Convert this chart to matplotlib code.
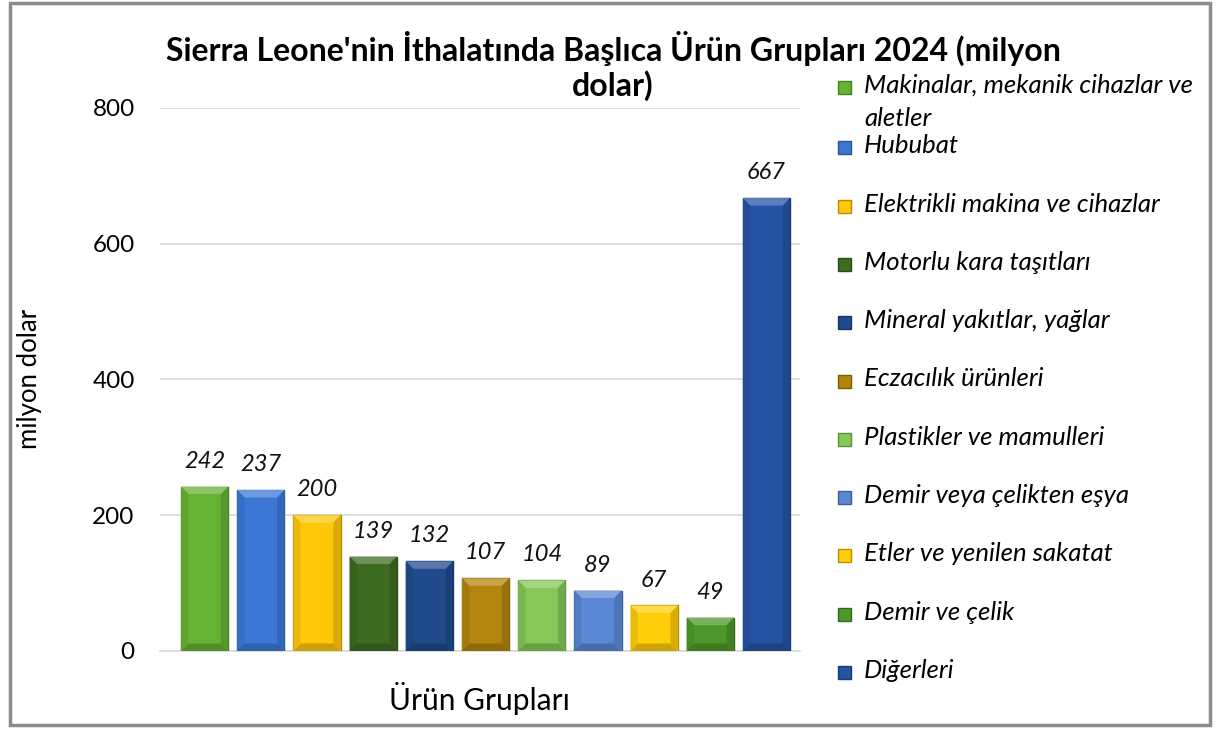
import matplotlib
matplotlib.use("Agg")
import matplotlib.pyplot as plt
from matplotlib.colors import to_rgb
from matplotlib.patches import Polygon, Rectangle

# data
categories = [
    "Makinalar, mekanik cihazlar ve\naletler",
    "Hububat",
    "Elektrikli makina ve cihazlar",
    "Motorlu kara taşıtları",
    "Mineral yakıtlar, yağlar",
    "Eczacılık ürünleri",
    "Plastikler ve mamulleri",
    "Demir veya çelikten eşya",
    "Etler ve yenilen sakatat",
    "Demir ve çelik",
    "Diğerleri",
]
values = [242, 237, 200, 139, 132, 107, 104, 89, 67, 49, 667]
colors = [
    "#66b232", "#3b78d6", "#ffc70a", "#3e6b22", "#1f4b8c", "#b3850e",
    "#86c758", "#5a88d4", "#ffcd0a", "#4e982b", "#2553a3",
]
yticks = [0, 200, 400, 600, 800]
title_lines = ["Sierra Leone'nin İthalatında Başlıca Ürün Grupları 2024 (milyon",
               "dolar)"]


def shade(color, f):
    r, g, b = to_rgb(color)
    if f >= 0:
        return (r + (1 - r) * f, g + (1 - g) * f, b + (1 - b) * f)
    return (r * (1 + f), g * (1 + f), b * (1 + f))


plt.rcParams["font.family"] = ["Lato", "DejaVu Sans"]

fig = plt.figure(figsize=(12.19, 7.35), dpi=100)
ax = fig.add_axes([0.131, 0.1143, 0.525, 0.739])

x = list(range(len(values)))
width = 0.84
bars = ax.bar(x, values, width=width, color=colors,
              edgecolor=[shade(c, -0.3) for c in colors],
              linewidth=1.0, zorder=3)

# bevel effect on each bar
bx = 0.13
by = 11
for xi, v, c in zip(x, values, colors):
    l, r = xi - width / 2, xi + width / 2
    top = [(l, v), (r, v), (r - bx, v - by), (l + bx, v - by)]
    bot = [(l, 0), (r, 0), (r - bx, by), (l + bx, by)]
    lft = [(l, 0), (l, v), (l + bx, v - by), (l + bx, by)]
    rgt = [(r, 0), (r, v), (r - bx, v - by), (r - bx, by)]
    for pts, f in [(top, 0.25), (bot, -0.2), (lft, -0.08), (rgt, -0.15)]:
        ax.add_patch(Polygon(pts, closed=True, facecolor=shade(c, f),
                             edgecolor="none", zorder=3.5))

for xi, v in zip(x, values):
    ax.text(xi, v + 22, str(v), ha="center", va="bottom", fontsize=17,
            style="italic", color="#111111", zorder=4)

ax.set_xlim(-0.8, 10.59)
ax.set_ylim(0, 800)
ax.set_yticks(yticks)
ax.set_yticklabels([str(t) for t in yticks], fontsize=17.5)
ax.tick_params(axis="y", length=0, pad=18)
ax.set_xticks([])
ax.grid(axis="y", color="#d9d9d9", linewidth=1.2, zorder=0)
for side in ["top", "right", "left"]:
    ax.spines[side].set_visible(False)
ax.spines["bottom"].set_color("#d9d9d9")
ax.spines["bottom"].set_linewidth(1.2)

ax.set_ylabel("milyon dolar", fontsize=18.5)
ax.yaxis.set_label_coords(-0.184, 0.5)
ax.set_xlabel("Ürün Grupları", fontsize=21.5)
ax.xaxis.set_label_coords(0.5, -0.058)

fig.text(0.503, 1 - 48 / 735, title_lines[0], ha="center", va="center",
         fontsize=23, fontweight="bold")
fig.text(0.503, 1 - 86 / 735, title_lines[1], ha="center", va="center",
         fontsize=23, fontweight="bold")

# legend, drawn item by item
step = 58.3 / 735
y0 = 1 - 87 / 735
for i, (lab, c) in enumerate(zip(categories, colors)):
    yc = y0 - i * step
    if i > 0:
        yc -= 2 / 735
    fig.patches.append(Rectangle((838 / 1219, yc - 7 / 735), 13 / 1219, 13 / 735,
                                 transform=fig.transFigure,
                                 facecolor=c, edgecolor=shade(c, -0.3),
                                 linewidth=1.0))
    fig.text(864 / 1219, yc + 13 / 735, lab, ha="left", va="top",
             fontsize=18.5, style="italic", linespacing=1.5)

fig.patches.append(Rectangle((0.008, 0.014), 0.985, 0.982,
                             transform=fig.transFigure, fill=False,
                             edgecolor="#8c8c8c", linewidth=2.5))

fig.savefig("out.png", dpi=100)
